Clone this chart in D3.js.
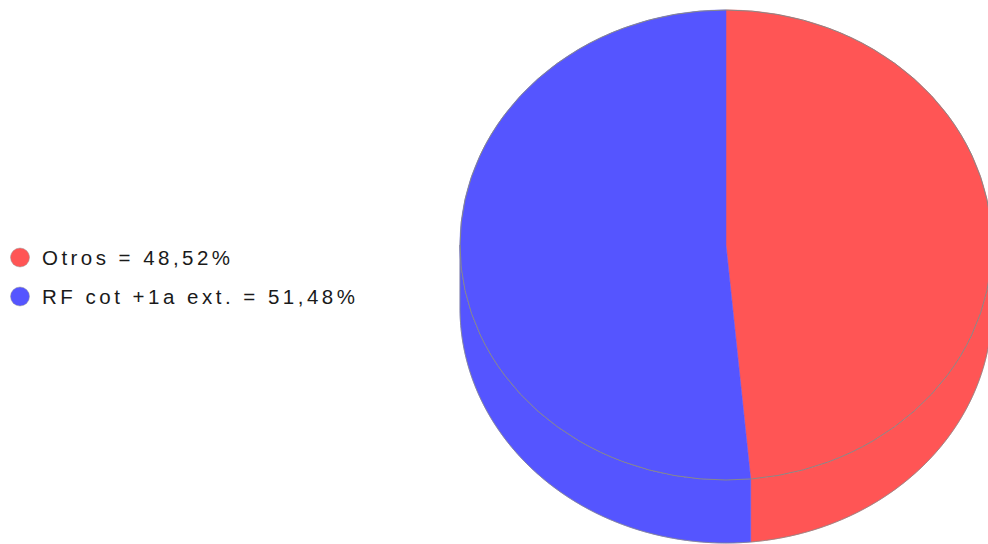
<!DOCTYPE html>
<html>
<head>
<meta charset="utf-8">
<script src="https://cdn.jsdelivr.net/npm/d3@7"></script>
<style>
  html, body { margin: 0; padding: 0; background: #fff; }
  svg { display: block; }
</style>
</head>
<body>
<svg id="chart" width="988" height="544"></svg>
<script>
const categories = ["Otros", "RF cot +1a ext."];
const values = [48.52, 51.48];
const labels = ["Otros = 48,52%", "RF cot +1a ext. = 51,48%"];
const colors = ["#FF5555", "#5555FF"];

const svg = d3.select("#chart");

// pie geometry
const cx = 726, cy = 245, rx = 266, ry = 235, depth = 63;
const pt = (a, dy = 0) => [cx + rx * Math.sin(a), cy - ry * Math.cos(a) + dy];

const pie = d3.pie().sort(null).value(d => d)(values);

function arcPath(a0, a1, dy) {
  const pts = [];
  const n = Math.max(2, Math.ceil(Math.abs(a1 - a0) * 80));
  for (let i = 0; i <= n; i++) {
    const a = a0 + (a1 - a0) * i / n;
    pts.push(pt(a, dy));
  }
  return pts;
}

const g = svg.append("g");

// sides (front half: angles pi/2 .. 3pi/2)
pie.forEach((s, i) => {
  const b0 = Math.max(s.startAngle, Math.PI / 2);
  const b1 = Math.min(s.endAngle, 3 * Math.PI / 2);
  if (b1 <= b0) return;
  const top = arcPath(b0, b1, 0);
  const bot = arcPath(b1, b0, depth);
  g.append("path")
    .attr("d", d3.line()(top.concat(bot)) + "Z")
    .attr("fill", colors[i])
    .attr("stroke", colors[i])
    .attr("stroke-width", 0.5);
});

// top slices
pie.forEach((s, i) => {
  const pts = [[cx, cy]].concat(arcPath(s.startAngle, s.endAngle, 0));
  g.append("path")
    .attr("d", d3.line()(pts) + "Z")
    .attr("fill", colors[i])
    .attr("stroke", colors[i])
    .attr("stroke-width", 0.5);
});

// outlines
g.append("ellipse")
  .attr("cx", cx).attr("cy", cy).attr("rx", rx).attr("ry", ry)
  .attr("fill", "none").attr("stroke", "#888").attr("stroke-width", 1);
const sil = arcPath(Math.PI / 2, 3 * Math.PI / 2, depth);
g.append("path")
  .attr("d", d3.line()([pt(Math.PI / 2)].concat(sil).concat([pt(3 * Math.PI / 2)])))
  .attr("fill", "none").attr("stroke", "#888").attr("stroke-width", 0.8);

// legend
const y = d3.scaleBand().domain(categories).range([238, 316]).padding(0);
const leg = svg.append("g");
categories.forEach((c, i) => {
  const yc = y(c) + y.bandwidth() / 2;
  leg.append("circle")
    .attr("cx", 20).attr("cy", yc).attr("r", 9.5)
    .attr("fill", colors[i]).attr("stroke", "#999").attr("stroke-width", 0.5);
  leg.append("text")
    .attr("x", 42).attr("y", yc)
    .attr("dy", "0.36em")
    .attr("font-family", "Liberation Sans, Arial, sans-serif")
    .attr("font-size", 20.5)
    .attr("fill", "#1a1a1a")
    .attr("textLength", i === 0 ? 188 : 313)
    .attr("lengthAdjust", "spacing")
    .text(labels[i]);
});
</script>
</body>
</html>
